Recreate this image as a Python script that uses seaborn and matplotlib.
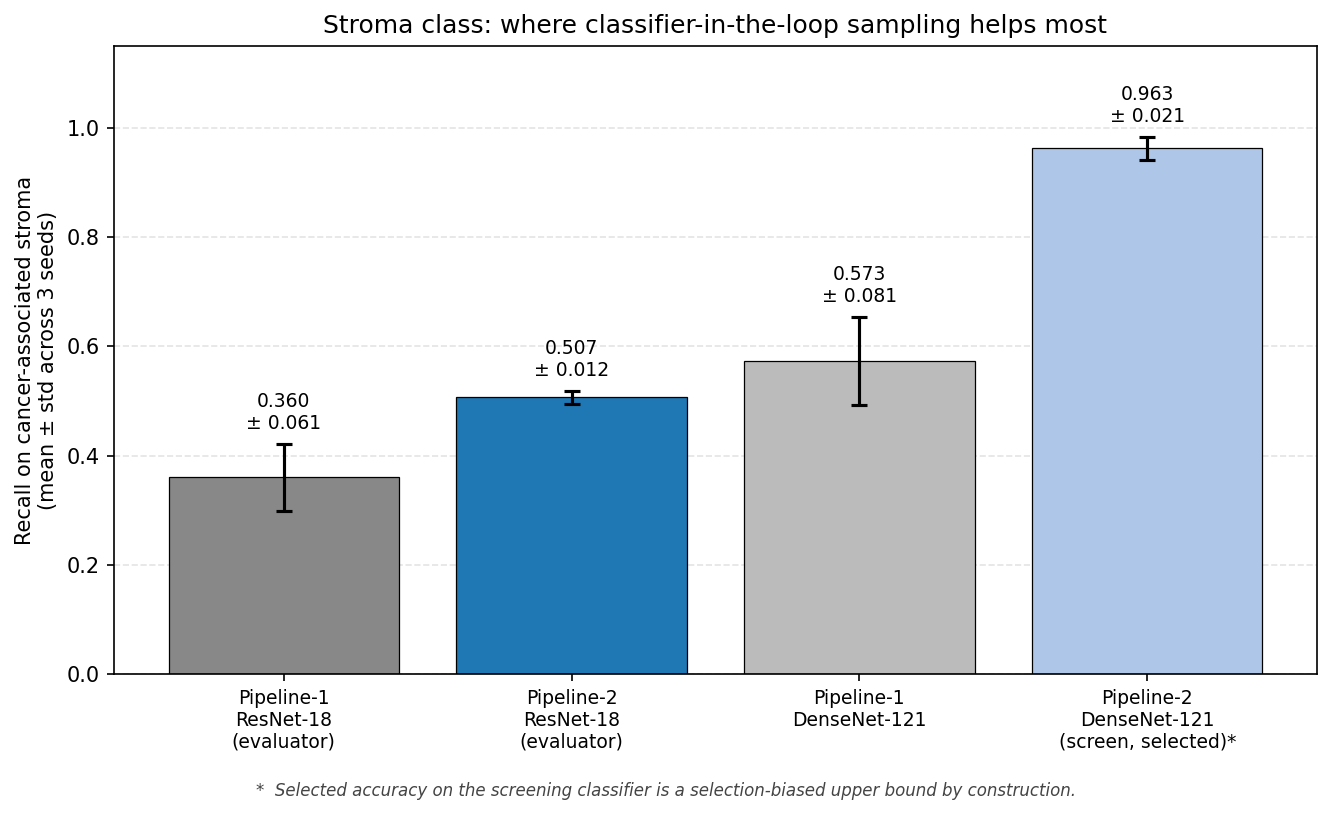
import numpy as np
import pandas as pd
import seaborn as sns
import matplotlib.pyplot as plt

# --- DATA ---
labels = [
    "Pipeline-1\nResNet-18\n(evaluator)",
    "Pipeline-2\nResNet-18\n(evaluator)",
    "Pipeline-1\nDenseNet-121",
    "Pipeline-2\nDenseNet-121\n(screen, selected)*",
]
means = [0.360, 0.507, 0.573, 0.963]
stds = [0.061, 0.012, 0.081, 0.021]
colors = ["#888888", "#1f77b4", "#bbbbbb", "#aec7e8"]

TITLE = "Stroma class: where classifier-in-the-loop sampling helps most"
YLABEL = "Recall on cancer-associated stroma\n(mean ± std across 3 seeds)"
FOOTNOTE = "*  Selected accuracy on the screening classifier is a selection-biased upper bound by construction."


def main():
    df = pd.DataFrame({"model": labels, "recall": means, "std": stds})

    fig = plt.figure(figsize=(1333 / 150, 815 / 150), dpi=150)
    ax = fig.add_axes([0.0855, 0.173, 0.9025, 0.7706])

    sns.barplot(
        data=df, x="model", y="recall", hue="model",
        palette=colors, saturation=1, legend=False, width=0.8,
        edgecolor="black", linewidth=0.6, ax=ax, zorder=2,
    )
    ax.errorbar(
        np.arange(len(means)), means, yerr=stds,
        fmt="none", ecolor="black", elinewidth=1.5, capsize=4,
        capthick=1.5, zorder=3,
    )

    # value labels above error bars
    for i, (m, s) in enumerate(zip(means, stds)):
        ax.text(i, m + s + 0.02, f"{m:.3f}\n± {s:.3f}",
                ha="center", va="bottom", fontsize=9)

    ax.set_ylim(0, 1.15)
    ax.set_xlim(-0.59, 3.59)
    ax.set_title(TITLE, fontsize=12)
    ax.set_ylabel(YLABEL, fontsize=10)
    ax.set_xlabel("")
    ax.tick_params(axis="x", labelsize=9)
    ax.tick_params(axis="y", labelsize=10)
    ax.yaxis.grid(True, linestyle="--", color="#dddddd", alpha=0.8, zorder=0)
    ax.set_axisbelow(True)

    fig.text(0.5, 0.03, FOOTNOTE, ha="center", va="center",
             fontsize=8, style="italic", color="#444444")

    plt.savefig("out.png", dpi=150, facecolor="white")
    plt.close()


if __name__ == "__main__":
    main()
